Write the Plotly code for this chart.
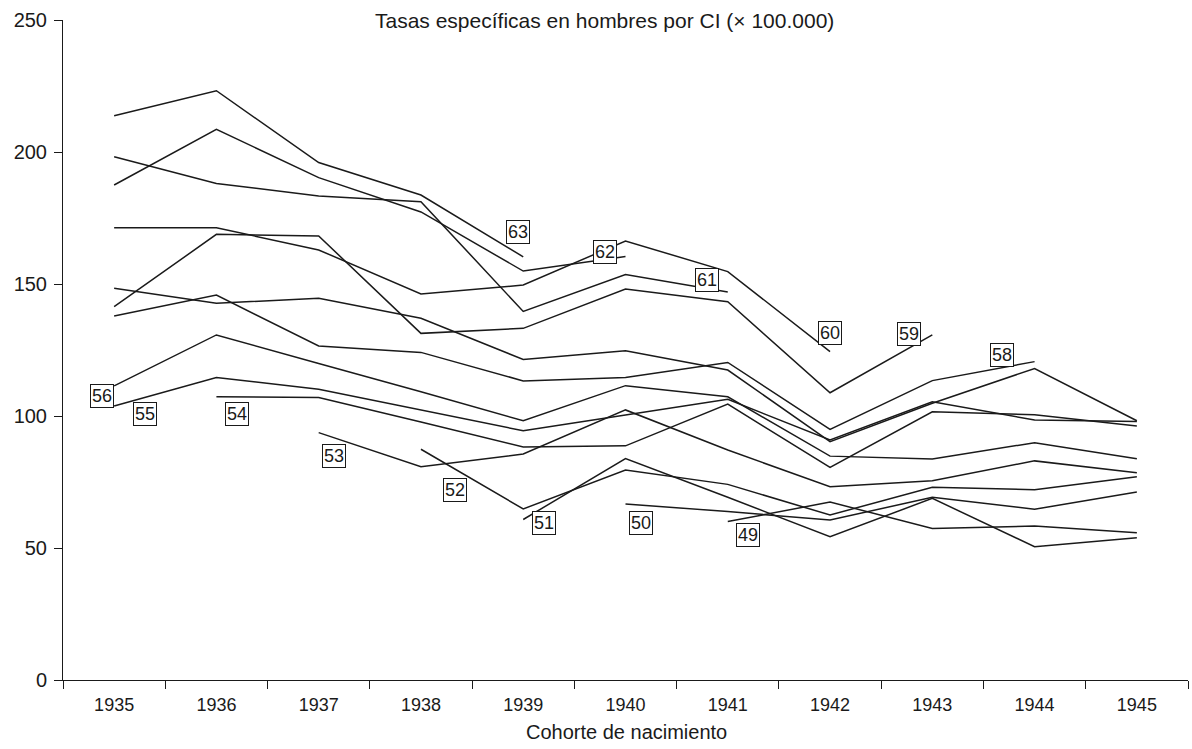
import plotly.graph_objects as go

years = [1935, 1936, 1937, 1938, 1939, 1940, 1941, 1942, 1943, 1944, 1945]

# Tasas específicas por edad (x 100.000), una serie por edad
age49 = [None, None, None, None, None, None, 60.0, 67.4, 57.4, 58.3, 55.8]
age50 = [None, None, None, None, None, 66.7, 63.8, 60.6, 69.2, 64.7, 71.2]
age51 = [None, None, None, None, 60.8, 83.9, 69.2, 54.3, 68.8, 50.5, 53.9]
age52 = [None, None, None, 87.4, 64.8, 79.5, 74.1, 62.5, 73.0, 72.1, 77.0]
age53 = [None, None, 93.7, 80.8, 85.6, 102.3, 87.1, 73.2, 75.5, 83.0, 78.5]
age54 = [None, 107.3, 107.0, 97.7, 88.3, 88.7, 104.5, 80.5, 101.6, 100.5, 96.2]
age55 = [103.8, 114.6, 110.1, 102.3, 94.4, 100.4, 106.3, 90.9, 105.4, 98.5, 97.9]
age56 = [111.4, 130.7, 119.9, 109.2, 98.2, 111.5, 107.3, 84.8, 83.7, 89.9, 83.8]
age57 = [148.4, 142.7, 144.6, 137.0, 121.4, 124.7, 117.4, 90.3, 104.8, 118.0, 98.2]
age58 = [137.9, 145.8, 126.5, 124.1, 113.3, 114.6, 120.3, 94.9, 113.4, 120.6, None]
age59 = [141.4, 168.8, 168.2, 131.3, 133.2, 148.1, 143.3, 108.8, 130.7, None, None]
age60 = [171.3, 171.3, 162.9, 146.2, 149.6, 166.3, 154.7, 124.4, None, None, None]
age61 = [198.2, 188.1, 183.3, 181.2, 139.6, 153.6, 147.0, None, None, None, None]
age62 = [187.5, 208.6, 190.3, 177.3, 154.9, 160.4, None, None, None, None, None]
age63 = [213.7, 223.2, 196.0, 183.7, 160.3, None, None, None, None, None, None]

series = {
    "49": age49, "50": age50, "51": age51, "52": age52, "53": age53,
    "54": age54, "55": age55, "56": age56, "57": age57, "58": age58,
    "59": age59, "60": age60, "61": age61, "62": age62, "63": age63,
}

# Posición de las etiquetas (año, tasa)
label_pos = {
    "63": (1938.95, 169.7), "62": (1939.8, 162.1), "61": (1940.8, 151.5),
    "60": (1942.0, 131.4), "59": (1942.77, 131.1), "58": (1943.68, 123.1),
    "56": (1934.88, 107.6), "55": (1935.3, 100.8), "54": (1936.2, 100.8),
    "53": (1937.15, 84.8), "52": (1938.33, 72.0), "51": (1939.2, 59.5),
    "50": (1940.15, 59.5), "49": (1941.2, 54.9),
}

FONT = "Liberation Sans, Arial, Helvetica, sans-serif"
INK = "#1a1a1a"
fig = go.Figure()
for name, vals in series.items():
    fig.add_trace(go.Scatter(x=years, y=vals, mode="lines", name=name,
                             line=dict(color=INK, width=1.5),
                             connectgaps=False, showlegend=False, hoverinfo="skip"))

for name, (lx, ly) in label_pos.items():
    fig.add_annotation(x=lx, y=ly, xref="x", yref="y", text=name, showarrow=False,
                       font=dict(family=FONT, size=18, color=INK),
                       bordercolor=INK, borderwidth=1, borderpad=1,
                       bgcolor="white")

# Título y rótulo del eje x
fig.add_annotation(x=(604 - 63) / 1125, y=1.0, xref="paper", yref="paper",
                   text="Tasas específicas en hombres por CI (× 100.000)",
                   showarrow=False, xanchor="center", yanchor="middle",
                   font=dict(family=FONT, size=21, color=INK))
fig.add_annotation(x=(626 - 63) / 1125, y=(680 - 732) / 660, xref="paper", yref="paper",
                   text="Cohorte de nacimiento", showarrow=False,
                   xanchor="center", yanchor="middle",
                   font=dict(family=FONT, size=20, color=INK))

fig.update_layout(
    width=1192, height=749,
    margin=dict(l=63, r=4, t=20, b=69),
    paper_bgcolor="white", plot_bgcolor="white",
    font=dict(family=FONT, size=20, color=INK),
    xaxis=dict(range=[1934.5, 1945.5], tickmode="array", tickvals=years,
               ticktext=[str(y) for y in years], ticks="", showgrid=False,
               zeroline=False, showline=True, linecolor=INK, linewidth=1,
               automargin=False, ticklabelstandoff=8,
               tickfont=dict(size=18),
               minor=dict(tickmode="array",
                          tickvals=[y - 0.5 for y in years] + [1945.5],
                          ticks="outside", ticklen=8, tickcolor=INK,
                          tickwidth=1, showgrid=False)),
    yaxis=dict(range=[0, 250], tickvals=[0, 50, 100, 150, 200, 250], ticks="outside",
               ticklen=8, tickcolor=INK, showgrid=False, zeroline=False,
               showline=True, linecolor=INK, linewidth=1, automargin=False,
               ticklabelstandoff=3, tickfont=dict(size=20)),
)

fig.write_html("out.html", config={"displayModeBar": False, "staticPlot": True},
               post_script="document.body.style.margin='0';document.body.style.overflow='hidden';")
